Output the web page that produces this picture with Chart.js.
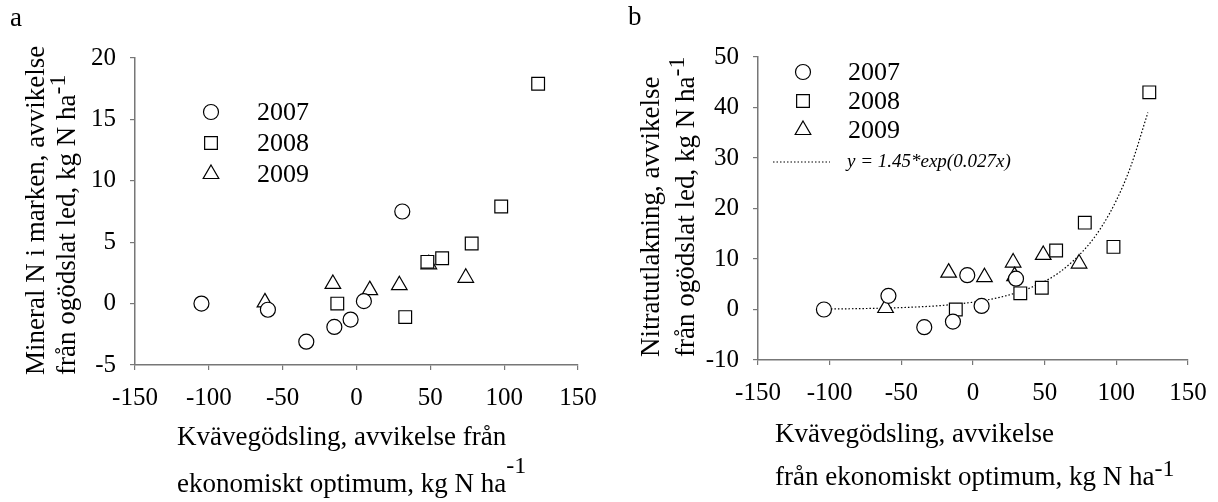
<!DOCTYPE html>
<html>
<head>
<meta charset="utf-8">
<script src="https://cdn.jsdelivr.net/npm/chart.js@4.4.0/dist/chart.umd.min.js"></script>
<style>
  body { margin: 0; background: #fff; }
  #wrap { position: relative; width: 1218px; height: 502px; overflow: hidden; font-family: "Liberation Serif", "Times New Roman", serif; color: #000; }
  canvas { position: absolute; top: 0; }
  .t { position: absolute; white-space: nowrap; font-size: 27px; line-height: 30px; }
  .rot { transform-origin: 0 0; transform: rotate(-90deg); }
  .sup { position: relative; font-size: 24px; }
</style>
</head>
<body>
<div id="wrap">
  <canvas id="chartA" width="600" height="502" style="left:0"></canvas>
  <canvas id="chartB" width="618" height="502" style="left:600px"></canvas>

  <div class="t" style="left:10px; top:2px;">a</div>
  <div class="t" style="left:628px; top:1px;">b</div>

  <div class="t rot" style="left:20px; top:375px; line-height:31px;">Mineral N i marken, avvikelse<br>från ogödslat led, kg N ha<span class="sup" style="top:-10px">-1</span></div>
  <div class="t" style="left:177px; top:421px;">Kvävegödsling, avvikelse från</div>
  <div class="t" style="left:177px; top:468px;">ekonomiskt optimum, kg N ha<span class="sup" style="top:-19px">-1</span></div>

  <div class="t rot" style="left:633px; top:357px; line-height:35px;">Nitratutlakning, avvikelse<br>från ogödslat led, kg N ha<span class="sup" style="top:-10px">-1</span></div>
  <div class="t" style="left:775px; top:418px;">Kvävegödsling, avvikelse</div>
  <div class="t" style="left:775px; top:461px;">från ekonomiskt optimum, kg N ha<span class="sup" style="top:-9px">-1</span></div>
</div>
<script>
// years / legend
const years = ['2007', '2008', '2009'];
const styles = ['circle', 'rect', 'triangle'];
const radii = [7.5, 9, 9];

// tick labels
const xTicks = [-150, -100, -50, 0, 50, 100, 150];
const yTicksA = [-5, 0, 5, 10, 15, 20];
const yTicksB = [-10, 0, 10, 20, 30, 40, 50];

// panel a: mineral N
const a2007x = [-105, -60, -34, -15, -4, 5, 31];
const a2007y = [0, -0.5, -3.1, -1.9, -1.3, 0.2, 7.5];
const a2008x = [-13, 33, 48, 58, 78, 98, 123];
const a2008y = [0, -1.1, 3.4, 3.7, 4.9, 7.9, 17.9];
const a2009x = [-62, -16, 9, 29, 49, 74];
const a2009y = [0.1, 1.6, 1.1, 1.5, 3.2, 2.1];

// panel b: nitrate leaching
const b2007x = [-104, -59, -34, -14, -4, 6, 30];
const b2007y = [0, 2.7, -3.5, -2.4, 6.8, 0.7, 6.1];
const b2008x = [-12, 33, 48, 58, 78, 98, 123];
const b2008y = [0, 3.2, 4.3, 11.7, 17.2, 12.4, 43];
const b2009x = [-61, -17, 8, 28, 29, 49, 74];
const b2009y = [0.3, 7.3, 6.4, 9.3, 6.6, 10.8, 9.1];

// fitted curve
const trendX = [-104, -80, -60, -40, -20, 0, 20, 40, 60, 80, 90, 100, 110, 122];
const trendY = [0.09, 0.17, 0.29, 0.49, 0.84, 1.45, 2.5, 4.3, 7.3, 12.6, 16.5, 21.6, 28.3, 39];
const trendLabel = 'y = 1.45*exp(0.027x)';

const FONT = '"Liberation Serif", "Times New Roman", serif';
const AXIS = '#777';

function pts(xs, ys) {
  return xs.map((x, i) => ({ x: x, y: ys[i] }));
}

function yearSet(i, xs, ys) {
  return {
    label: years[i],
    data: pts(xs, ys),
    pointStyle: styles[i],
    pointRadius: radii[i],
    pointHoverRadius: radii[i],
    pointBackgroundColor: '#fff',
    pointBorderColor: '#000',
    pointBorderWidth: 1.2,
    showLine: false,
    order: 1
  };
}

function drawMarker(ctx, style, r, x, y) {
  ctx.beginPath();
  if (style === 'circle') {
    ctx.arc(x, y, r, 0, Math.PI * 2);
  } else if (style === 'rect') {
    const s = r * Math.SQRT1_2;
    ctx.rect(x - s, y - s, 2 * s, 2 * s);
  } else {
    ctx.moveTo(x, y - r);
    ctx.lineTo(x + r * Math.sin(Math.PI * 2 / 3), y + r / 2);
    ctx.lineTo(x - r * Math.sin(Math.PI * 2 / 3), y + r / 2);
    ctx.closePath();
  }
  ctx.fillStyle = '#fff';
  ctx.fill();
  ctx.strokeStyle = '#000';
  ctx.lineWidth = 1.2;
  ctx.stroke();
}

// legend inside the plot area
const innerLegend = {
  id: 'innerLegend',
  afterDraw(chart, args, opts) {
    const ctx = chart.ctx;
    const a = chart.chartArea;
    const mx = a.left + opts.dx, tx = a.left + opts.tx;
    ctx.save();
    years.forEach((yr, i) => {
      const y = a.top + opts.dy + i * opts.gap[i];
      drawMarker(ctx, styles[i], radii[i], mx, y);
      ctx.fillStyle = '#000';
      ctx.font = '26px ' + FONT;
      ctx.textBaseline = 'middle';
      ctx.fillText(yr, tx, y + 1);
    });
    if (opts.trend) {
      const y = a.top + opts.trend.dy;
      ctx.setLineDash([1.5, 2]);
      ctx.lineWidth = 1.2;
      ctx.strokeStyle = '#000';
      ctx.beginPath();
      ctx.moveTo(a.left + opts.trend.x0, y);
      ctx.lineTo(a.left + opts.trend.x1, y);
      ctx.stroke();
      ctx.setLineDash([]);
      ctx.font = 'italic 19px ' + FONT;
      ctx.fillStyle = '#000';
      ctx.fillText(trendLabel, a.left + opts.trend.tx, y);
    }
    ctx.restore();
  }
};

function scales(yTicks, yMin, yMax) {
  const common = {
    type: 'linear',
    grid: { display: true, drawOnChartArea: false, drawTicks: true, tickLength: 5, color: AXIS, lineWidth: 1.2 },
    border: { display: true, color: AXIS, width: 1.5 },
    ticks: { color: '#000', font: { family: FONT, size: 25 } }
  };
  return {
    x: Object.assign({}, common, {
      min: -150, max: 150,
      ticks: Object.assign({}, common.ticks, { padding: 13, maxRotation: 0 }),
      afterBuildTicks: s => { s.ticks = xTicks.map(v => ({ value: v })); },
      afterFit: s => { s.height = 60; s.paddingLeft = 0; s.paddingRight = 0; }
    }),
    y: Object.assign({}, common, {
      min: yMin, max: yMax,
      ticks: Object.assign({}, common.ticks, { padding: 14 }),
      afterBuildTicks: s => { s.ticks = yTicks.map(v => ({ value: v })); },
      afterFit: s => { s.width = 60; s.paddingTop = 0; s.paddingBottom = 0; }
    })
  };
}

function baseOptions(pad, yTicks, yMin, yMax, legendOpts) {
  return {
    responsive: false,
    animation: false,
    layout: { padding: pad },
    scales: scales(yTicks, yMin, yMax),
    plugins: {
      legend: { display: false },
      tooltip: { enabled: false },
      innerLegend: legendOpts
    }
  };
}

new Chart(document.getElementById('chartA'), {
  type: 'scatter',
  data: {
    datasets: [
      yearSet(0, a2007x, a2007y),
      yearSet(1, a2008x, a2008y),
      yearSet(2, a2009x, a2009y)
    ]
  },
  options: baseOptions({ left: 75, right: 22, top: 58, bottom: 77 }, yTicksA, -5, 20,
    { dx: 76, tx: 122, dy: 54, gap: [32, 31, 31] }),
  plugins: [innerLegend]
});

new Chart(document.getElementById('chartB'), {
  type: 'scatter',
  data: {
    datasets: [
      yearSet(0, b2007x, b2007y),
      yearSet(1, b2008x, b2008y),
      yearSet(2, b2009x, b2009y),
      {
        label: 'trend',
        type: 'line',
        data: pts(trendX, trendY),
        borderColor: '#000',
        borderWidth: 1.2,
        borderDash: [1.5, 2],
        pointRadius: 0,
        fill: false,
        cubicInterpolationMode: 'monotone',
        order: 2
      }
    ]
  },
  options: baseOptions({ left: 98, right: 30, top: 57, bottom: 82 }, yTicksB, -10, 50,
    { dx: 45, tx: 90, dy: 15, gap: [30, 29, 29], trend: { dy: 105, x0: 15, x1: 72, tx: 89 } }),
  plugins: [innerLegend]
});
</script>
</body>
</html>
